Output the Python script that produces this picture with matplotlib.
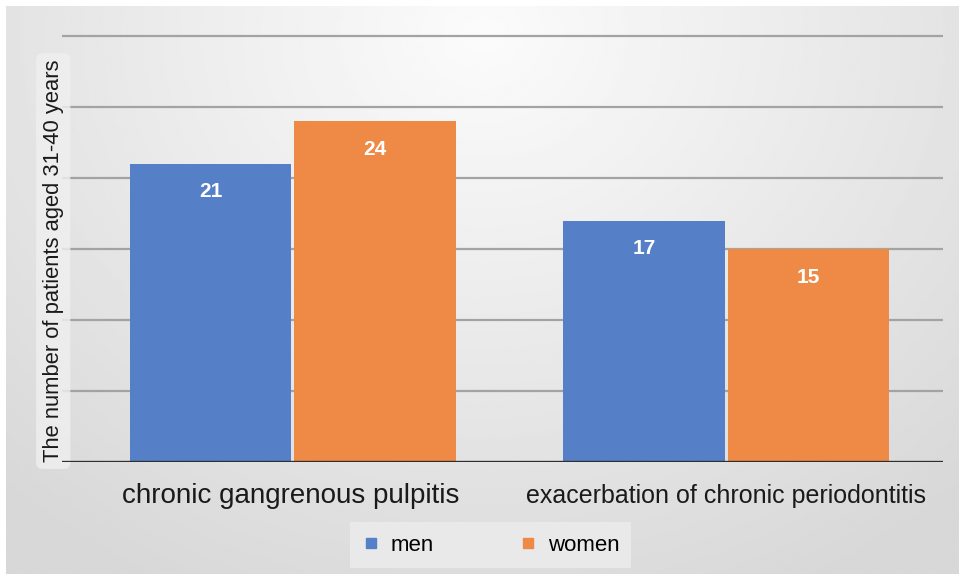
import numpy as np
import matplotlib
matplotlib.use("Agg")
import matplotlib.pyplot as plt
from matplotlib.lines import Line2D

# data
categories = ["chronic gangrenous pulpitis", "exacerbation of chronic periodontitis"]
cat_sizes = [20, 18]
men = [21, 17]
women = [24, 15]
series_names = ["men", "women"]
colors = ["#5580c8", "#ee8a45"]
ylabel = "The number of patients aged 31-40 years"

plt.rcParams['font.family'] = ['Liberation Sans', 'DejaVu Sans']

fig = plt.figure(figsize=(9.64, 5.8), dpi=100)
fig.patch.set_facecolor("white")

# soft gray gradient background, lighter towards the top centre
bg = fig.add_axes([0.006, 0.01, 0.988, 0.98])
yy, xx = np.mgrid[0:1:200j, 0:1:300j]
dist = np.sqrt(((xx - 0.5) / 0.75) ** 2 + ((yy - 0.05) / 1.1) ** 2)
shade = 0.985 - 0.14 * np.clip(dist, 0, 1)
bg.imshow(shade, cmap="gray", vmin=0, vmax=1, aspect="auto", extent=[0, 1, 0, 1], origin="upper")
bg.set_axis_off()

ax = fig.add_axes([0.0643, 0.2034, 0.9139, 0.7466])
ax.patch.set_alpha(0)

x = np.arange(len(categories))
w = 0.373
off = 0.19
b1 = ax.bar(x - off, men, w, color=colors[0], zorder=3)
b2 = ax.bar(x + off, women, w, color=colors[1], zorder=3)

for bars, vals in ((b1, men), (b2, women)):
    for b, v in zip(bars, vals):
        ax.annotate(str(v), (b.get_x() + b.get_width() / 2, v), xytext=(0, -28),
                    textcoords="offset pixels", ha="center", va="center",
                    color="white", fontsize=15, fontweight="bold", zorder=4)

ax.set_xlim(-0.533, 1.5)
ax.set_ylim(0, 30.5)
for g in range(5, 31, 5):
    ax.axhline(g, color="#a3a3a3", lw=1.6, zorder=1)
ax.axhline(0, color="#2f2f2f", lw=2.4, zorder=5)

for s in ax.spines.values():
    s.set_visible(False)
ax.set_xticks([])
ax.set_yticks([])

label_x = [-0.005, 1.0]
for lx, name, fs in zip(label_x, categories, cat_sizes):
    ax.text(lx, -0.095, name, transform=ax.get_xaxis_transform(), ha="center",
            va="baseline", fontsize=fs, color="#1a1a1a")

ax.set_ylabel(ylabel, fontsize=15.8, color="#1a1a1a",
              bbox=dict(boxstyle="round,pad=0.3", fc="#f0f0f0", ec="none", alpha=0.8))
ax.yaxis.set_label_coords(0.002, 0.464)

handles = [Line2D([], [], ls="none", marker="s", markersize=7.5, color=c) for c in colors]
leg = fig.legend(handles, series_names, loc="center", bbox_to_anchor=(0.509, 0.06),
                 ncol=2, fontsize=16, frameon=True, fancybox=False, handlelength=0.8,
                 handletextpad=0.5, columnspacing=3.8, borderpad=0.55)
leg.get_frame().set_facecolor("#e9e9e9")
leg.get_frame().set_edgecolor("none")
leg.get_frame().set_alpha(1)

fig.savefig("out.png", dpi=100)
